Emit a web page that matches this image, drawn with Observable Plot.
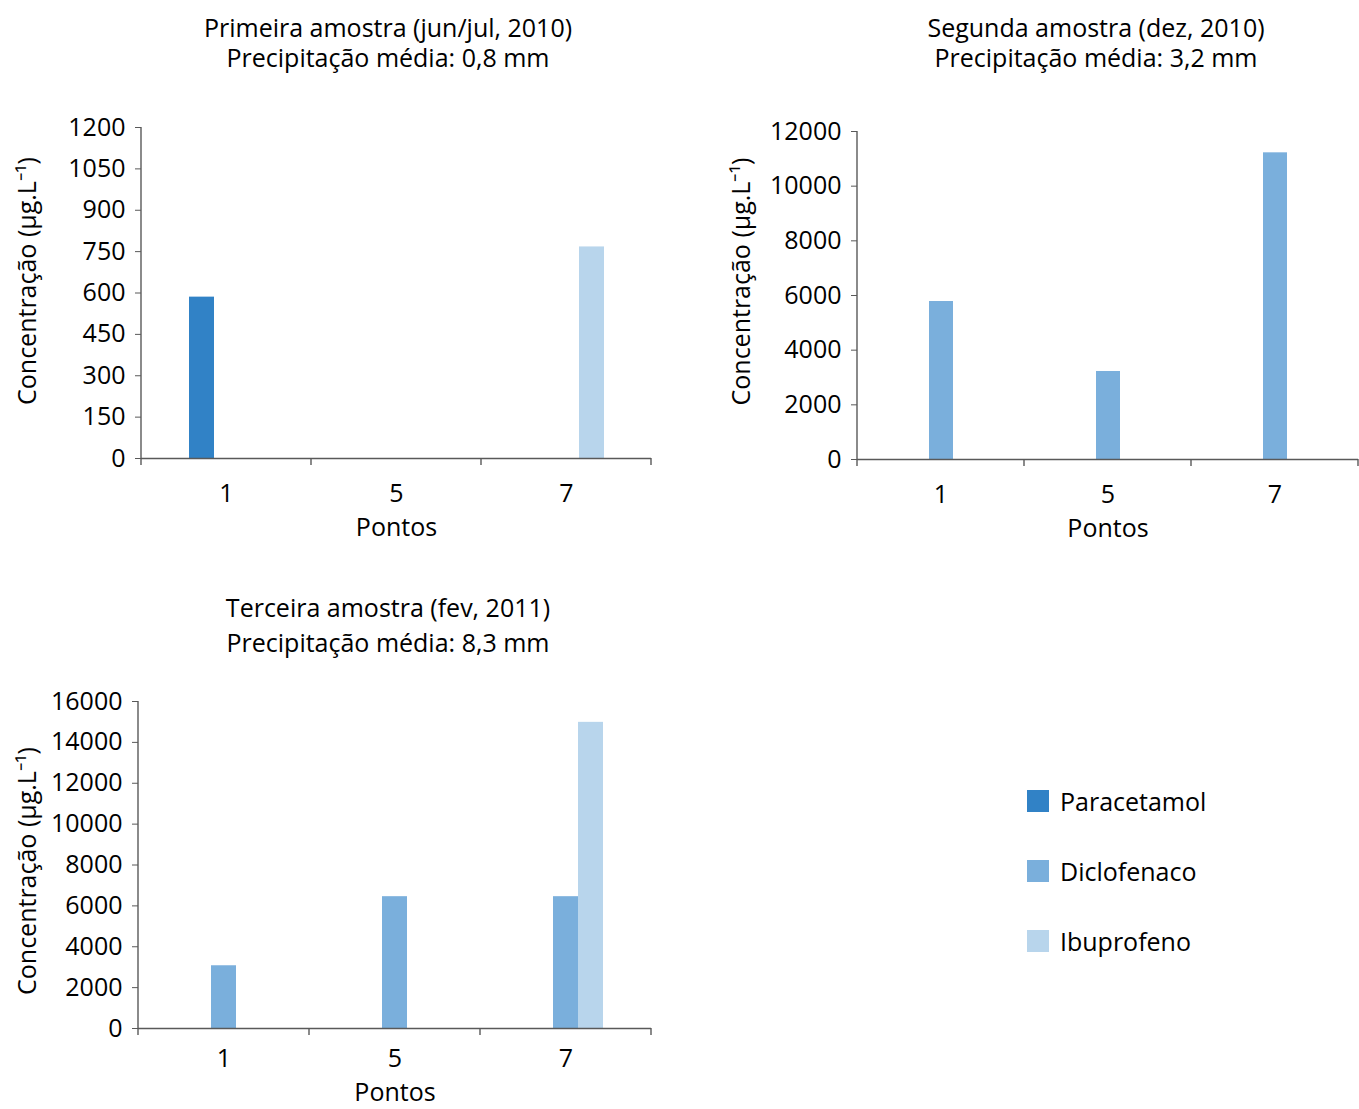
<!DOCTYPE html>
<html>
<head>
<meta charset="utf-8">
<script src="https://cdn.jsdelivr.net/npm/d3@7"></script>
<script src="https://cdn.jsdelivr.net/npm/@observablehq/plot@0.6"></script>
<style>
  html, body { margin: 0; padding: 0; background: #fff; overflow: hidden; }
  #root { position: relative; width: 1359px; height: 1109px; font-family: "Open Sans", sans-serif; color: #000; }
  .panel { position: absolute; }
  .title { position: absolute; text-align: center; font-size: 25px; white-space: pre-line; }
  .legend { position: absolute; left: 1027px; top: 783px; font-size: 25px; }
  .legend .item { display: flex; align-items: center; height: 35px; margin-bottom: 35px; }
  .legend .sw { width: 22px; height: 22px; margin-right: 11px; }
</style>
</head>
<body>
<div id="root"></div>
<script>
// ---- data ----
const points = ["1", "5", "7"];
const drugs = ["Paracetamol", "Diclofenaco", "Ibuprofeno"];
const colors = ["#3182c6", "#7aafdc", "#b8d5ec"];

// Primeira amostra (jun/jul, 2010)
const s1Paracetamol = [585, 0, 0];
const s1Diclofenaco = [0, 0, 0];
const s1Ibuprofeno = [0, 0, 767];
const s1Ticks = [0, 150, 300, 450, 600, 750, 900, 1050, 1200];

// Segunda amostra (dez, 2010)
const s2Paracetamol = [0, 0, 0];
const s2Diclofenaco = [5780, 3220, 11220];
const s2Ibuprofeno = [0, 0, 0];
const s2Ticks = [0, 2000, 4000, 6000, 8000, 10000, 12000];

// Terceira amostra (fev, 2011)
const s3Paracetamol = [0, 0, 0];
const s3Diclofenaco = [3070, 6450, 6450];
const s3Ibuprofeno = [0, 0, 14980];
const s3Ticks = [0, 2000, 4000, 6000, 8000, 10000, 12000, 14000, 16000];

const titles = [
  ["Primeira amostra (jun/jul, 2010)", "Precipitação média: 0,8 mm"],
  ["Segunda amostra (dez, 2010)", "Precipitação média: 3,2 mm"],
  ["Terceira amostra (fev, 2011)", "Precipitação média: 8,3 mm"]
];
const yLabel = "Concentração (µg.L⁻¹)";
const xLabel = "Pontos";

// ---- layout ----
const FONT = "Open Sans";
const AXIS = "#595959";
const root = document.getElementById("root");

function rows(series) {
  const out = [];
  drugs.forEach((d, j) => points.forEach((p, i) => out.push({point: p, drug: d, value: series[j][i]})));
  return out;
}

function panel(cfg) {
  const data = rows(cfg.series);
  const plot = Plot.plot({
    width: cfg.width,
    height: cfg.height,
    marginLeft: cfg.marginLeft,
    marginRight: cfg.marginRight,
    marginTop: cfg.marginTop,
    marginBottom: cfg.marginBottom,
    style: {fontFamily: FONT, fontSize: "25px", color: "#000", background: "transparent", overflow: "visible"},
    fx: {domain: points, padding: 0, axis: "bottom", label: xLabel, labelAnchor: "center", labelOffset: cfg.xLabelOffset, tickSize: 0, tickPadding: cfg.xTickPadding},
    x: {domain: drugs, paddingInner: 0, paddingOuter: 1.9, axis: null},
    y: {domain: cfg.yDomain, ticks: cfg.ticks, tickFormat: d3.format("d"), tickSize: 6, tickPadding: 10,
        label: yLabel, labelAnchor: "center", labelArrow: "none", labelOffset: cfg.yLabelOffset},
    color: {domain: drugs, range: colors},
    marks: [
      Plot.barY(data, {fx: "point", x: "drug", y: "value", fill: "drug"}),
      Plot.ruleY([0], {stroke: AXIS, strokeWidth: 1.4})
    ]
  });
  // axis lines and category-boundary ticks from the plot's own scales
  const svg = d3.select(plot.tagName.toLowerCase() === "svg" ? plot : plot.querySelector("svg"));
  const fx = plot.scale("fx"), y = plot.scale("y");
  const y0 = y.apply(cfg.yDomain[0]), y1 = y.apply(cfg.yDomain[1]);
  const left = fx.apply(points[0]);
  const edges = points.map(p => fx.apply(p)).concat([fx.apply(points[points.length - 1]) + fx.bandwidth]);
  const g = svg.append("g").attr("stroke", AXIS).attr("stroke-width", 1.4);
  g.append("line").attr("x1", left).attr("x2", left).attr("y1", y0).attr("y2", y1);
  edges.forEach(e => g.append("line").attr("x1", e).attr("x2", e).attr("y1", y0).attr("y2", y0 + 7));
  svg.selectAll("g[aria-label='y-axis tick'] path, g[aria-label='y-axis tick'] line").attr("stroke", AXIS);
  // nudge the rotated y label along its own direction, as in the reference
  svg.selectAll("g[aria-label='y-axis label'] text").attr("dx", cfg.yLabelShift);
  const wrap = document.createElement("div");
  wrap.className = "panel";
  wrap.style.left = cfg.left + "px";
  wrap.style.top = cfg.top + "px";
  wrap.appendChild(plot);
  root.appendChild(wrap);
}

function title(lines, cx, top, lh) {
  const d = document.createElement("div");
  d.className = "title";
  d.textContent = lines.join("\n");
  d.style.left = (cx - 300) + "px";
  d.style.width = "600px";
  d.style.top = top + "px";
  d.style.lineHeight = lh + "px";
  root.appendChild(d);
}

panel({series: [s1Paracetamol, s1Diclofenaco, s1Ibuprofeno], yDomain: [0, 1200], ticks: s1Ticks,
  xLabelOffset: 77, xTickPadding: 26, yLabelOffset: 123, yLabelShift: 12,
  left: 0, top: 100, width: 680, height: 448, marginLeft: 140, marginRight: 28, marginTop: 27, marginBottom: 90});
panel({series: [s2Paracetamol, s2Diclofenaco, s2Ibuprofeno], yDomain: [0, 12000], ticks: s2Ticks,
  xLabelOffset: 77, xTickPadding: 26, yLabelOffset: 125, yLabelShift: 14,
  left: 717, top: 100, width: 642, height: 449, marginLeft: 140, marginRight: 1, marginTop: 31, marginBottom: 90});
panel({series: [s3Paracetamol, s3Diclofenaco, s3Ibuprofeno], yDomain: [0, 16000], ticks: s3Ticks,
  xLabelOffset: 72, xTickPadding: 21, yLabelOffset: 120, yLabelShift: -6,
  left: -3, top: 674, width: 683, height: 430, marginLeft: 140, marginRight: 28, marginTop: 27, marginBottom: 76});

title(titles[0], 388, 12, 30);
title(titles[1], 1096, 12, 30);
title(titles[2], 388, 590, 35);

// legend
const leg = document.createElement("div");
leg.className = "legend";
drugs.forEach((d, i) => {
  const it = document.createElement("div");
  it.className = "item";
  const sw = document.createElement("div");
  sw.className = "sw";
  sw.style.background = colors[i];
  const tx = document.createElement("span");
  tx.textContent = d;
  it.appendChild(sw); it.appendChild(tx);
  leg.appendChild(it);
});
root.appendChild(leg);
</script>
</body>
</html>
